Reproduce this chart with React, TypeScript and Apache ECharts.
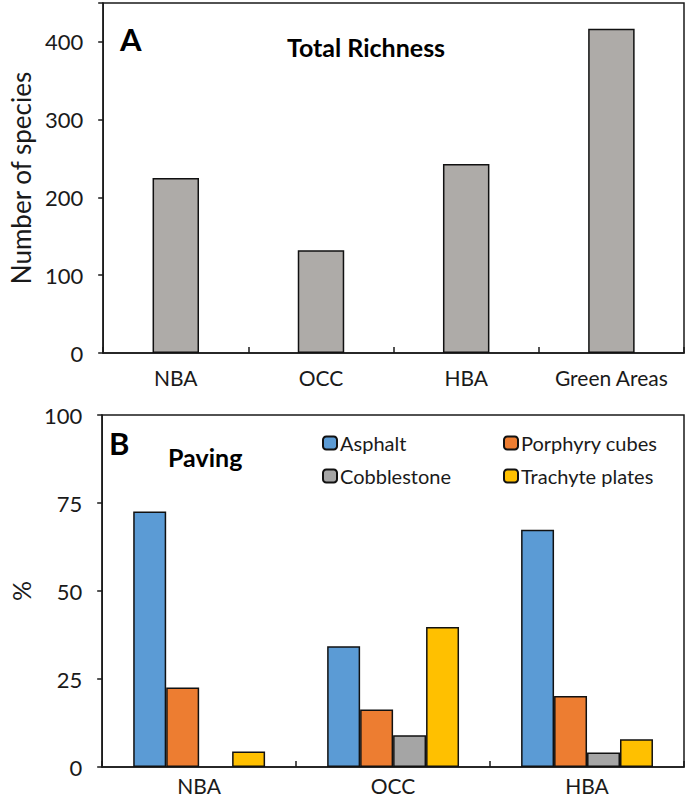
import React, { useEffect, useRef } from 'react';
import * as echarts from 'echarts';

const richnessCategories = ['NBA', 'OCC', 'HBA', 'Green Areas'];
const richnessValues = [225, 132, 243, 417];

const pavingCategories = ['NBA', 'OCC', 'HBA'];
const asphalt = [72.6, 34.3, 67.4];
const porphyryCubes = [22.6, 16.3, 20.2];
const cobblestone: (number | null)[] = [null, 9.0, 4.1];
const trachytePlates = [4.4, 39.8, 7.9];

const FONT = 'Lato';
const INK = '#1a1a1a';

export default function App() {
  const ref = useRef<HTMLDivElement>(null);
  useEffect(() => {
    if (!ref.current) return;
    const chart = echarts.init(ref.current, undefined, { renderer: 'svg' });
    const axisLine = { show: true, lineStyle: { color: INK, width: 1.5 } };
    const barBorder = { borderColor: '#111', borderWidth: 1.5 };
    const labelStyle = { color: INK, fontSize: 21, fontFamily: FONT };
    const tickLabelStyle = { color: INK, fontSize: 22, fontFamily: FONT };
    chart.setOption({
      animation: false,
      textStyle: { fontFamily: FONT },
      grid: [
        { left: 94, top: 3, width: 590, height: 350, show: true, borderColor: INK, borderWidth: 1.5, backgroundColor: 'transparent' },
        { left: 93, top: 415, width: 591, height: 352, show: true, borderColor: INK, borderWidth: 1.5, backgroundColor: 'transparent' },
      ],
      xAxis: [
        {
          type: 'category', gridIndex: 0, data: richnessCategories,
          axisLine, axisTick: { show: true, inside: true, length: 6, lineStyle: { color: INK, width: 1.5 } },
          axisLabel: { ...labelStyle, margin: 14, interval: 0 },
        },
        {
          type: 'category', gridIndex: 1, data: pavingCategories,
          axisLine, axisTick: { show: true, inside: true, length: 6, lineStyle: { color: INK, width: 1.5 } },
          axisLabel: { ...labelStyle, margin: 8, interval: 0 },
        },
      ],
      yAxis: [
        {
          type: 'value', gridIndex: 0, min: 0, max: 450, interval: 100,
          name: 'Number of species', nameLocation: 'middle', nameGap: 60,
          nameTextStyle: { color: INK, fontSize: 26, fontFamily: FONT },
          axisLine, axisTick: { show: true, length: 5, lineStyle: { color: INK, width: 1.5 } },
          axisLabel: { ...tickLabelStyle, margin: 20, formatter: (v: number) => (v > 400 ? '' : String(v)) },
          splitLine: { show: false },
        },
        {
          type: 'value', gridIndex: 1, min: 0, max: 100, interval: 25,
          name: '%', nameLocation: 'middle', nameGap: 68,
          nameTextStyle: { color: INK, fontSize: 25, fontFamily: FONT },
          axisLine, axisTick: { show: true, length: 5, lineStyle: { color: INK, width: 1.5 } },
          axisLabel: { ...tickLabelStyle, margin: 20 },
          splitLine: { show: false },
        },
      ],
      legend: [
        {
          left: 317, top: 428, orient: 'vertical', itemWidth: 14, itemHeight: 13, itemGap: 13,
          textStyle: { color: INK, fontSize: 20, fontFamily: FONT, padding: [0, 0, 0, -2] },
          data: ['Asphalt', 'Cobblestone'],
        },
        {
          left: 498, top: 428, orient: 'vertical', itemWidth: 14, itemHeight: 13, itemGap: 13,
          textStyle: { color: INK, fontSize: 20, fontFamily: FONT, padding: [0, 0, 0, -2] },
          data: ['Porphyry cubes', 'Trachyte plates'],
        },
      ],
      graphic: [
        { type: 'text', x: 120, y: 39, style: { text: 'A', font: `bold 31px ${FONT}`, fill: '#000', verticalAlign: 'middle' } },
        { type: 'text', x: 366, y: 47, style: { text: 'Total Richness', font: `bold 25px ${FONT}`, fill: '#000', align: 'center', verticalAlign: 'middle' } },
        { type: 'text', x: 109, y: 443, style: { text: 'B', font: `bold 31px ${FONT}`, fill: '#000', verticalAlign: 'middle' } },
        { type: 'text', x: 168, y: 457, style: { text: 'Paving', font: `bold 25px ${FONT}`, fill: '#000', verticalAlign: 'middle' } },
      ],
      series: [
        {
          type: 'bar', xAxisIndex: 0, yAxisIndex: 0, data: richnessValues, barWidth: '32%',
          itemStyle: { color: '#AEABA8', ...barBorder },
        },
        {
          name: 'Asphalt', type: 'bar', xAxisIndex: 1, yAxisIndex: 1, data: asphalt,
          barGap: '0%', barCategoryGap: '32%', itemStyle: { color: '#5B9BD5', ...barBorder },
        },
        {
          name: 'Porphyry cubes', type: 'bar', xAxisIndex: 1, yAxisIndex: 1, data: porphyryCubes,
          barGap: '0%', barCategoryGap: '32%', itemStyle: { color: '#ED7D31', ...barBorder },
        },
        {
          name: 'Cobblestone', type: 'bar', xAxisIndex: 1, yAxisIndex: 1, data: cobblestone,
          barGap: '0%', barCategoryGap: '32%', itemStyle: { color: '#A5A5A5', ...barBorder },
        },
        {
          name: 'Trachyte plates', type: 'bar', xAxisIndex: 1, yAxisIndex: 1, data: trachytePlates,
          barGap: '0%', barCategoryGap: '32%', itemStyle: { color: '#FFC000', ...barBorder },
        },
      ],
    });
    return () => chart.dispose();
  }, []);
  return (
    <div
      ref={ref}
      style={{ position: 'fixed', left: 0, top: 0, width: 685, height: 800, background: '#fff' }}
    />
  );
}
